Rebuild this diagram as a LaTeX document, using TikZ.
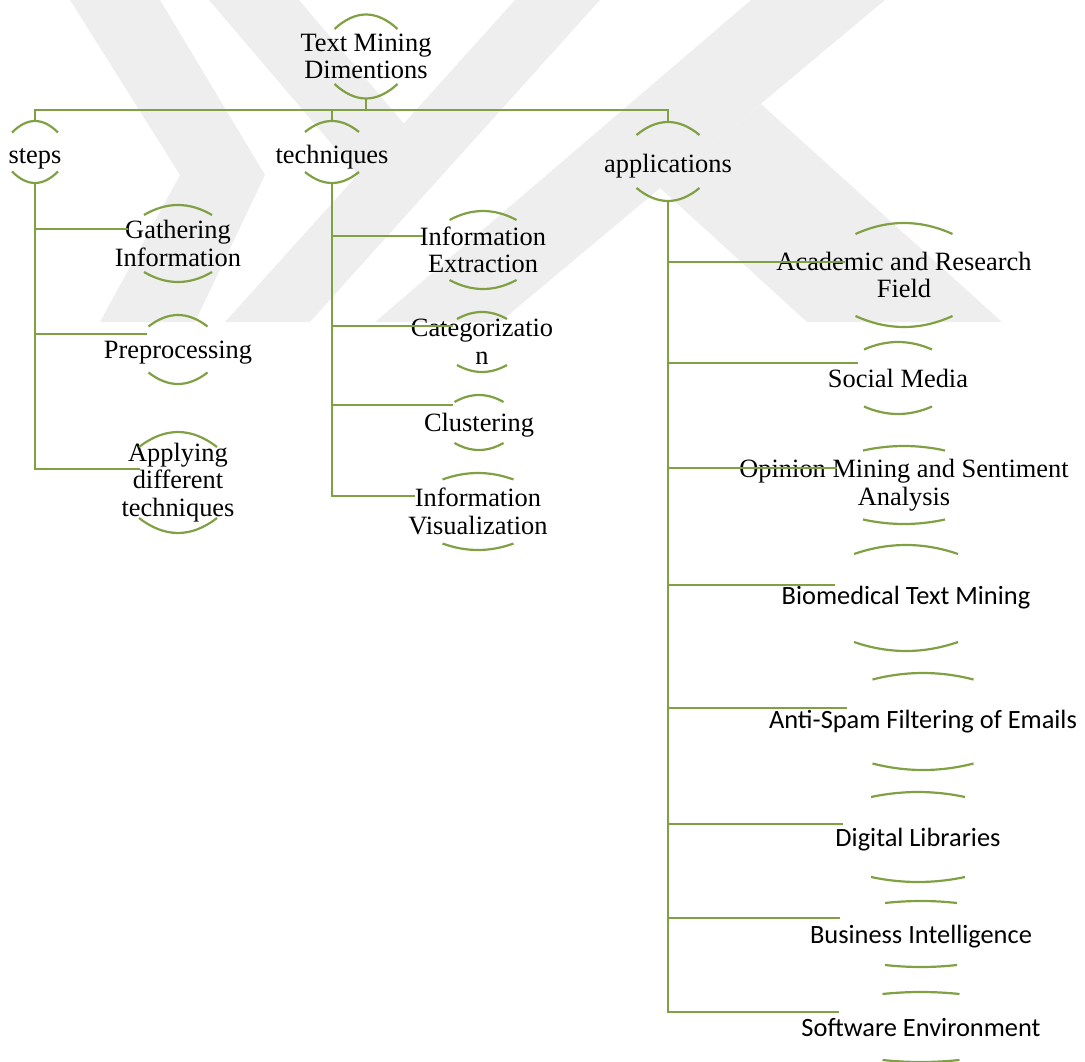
\documentclass[tikz,border=0pt]{standalone}
\usepackage{fontspec}
\setmainfont{Liberation Serif}
\newfontfamily\calibrifont{Carlito}
\definecolor{leafgreen}{RGB}{128,160,68}
\definecolor{markgray}{RGB}{238,238,238}

\tikzset{
  dimnode/.style={inner sep=0pt, align=center, font=\fontsize{26.4}{27.5}\selectfont},
  appnode/.style={dimnode, font={\calibrifont\fontsize{26.4}{27.5}\selectfont}},
  oneline/.style={text depth=0pt},
  headnode/.style={dimnode, text height=#1, text depth=0pt},
  link/.style={leafgreen, line width=2.3pt},
  rim/.style={leafgreen, line width=2.2pt}
}

\begin{document}
\begin{tikzpicture}[x=1pt, y=-1pt]
  \useasboundingbox (0,0) rectangle (1085,1062);

  % faint bands in the background
  \fill[markgray] (70,0) -- (160,0) -- (265,175) -- (195,322) -- (100,322) -- (180,175) -- cycle;
  \fill[markgray] (209,0) -- (299,0) -- (445,172) -- (358,175) -- cycle;
  \fill[markgray] (515,0) -- (600,0) -- (310,322) -- (225,322) -- cycle;
  \fill[markgray] (751,0) -- (885,0) -- (500,322) -- (375,322) -- cycle;
  \fill[markgray] (761,104) -- (1002,322) -- (807,322) -- (660,188) -- cycle;

  % top and first level
  \node[dimnode, minimum height=84] (root) at (366,56.5) {Text Mining\\Dimentions};
  \node[headnode=23pt, minimum height=62] (steps) at (35,152) {steps};
  \node[headnode=23pt, minimum height=62] (tech) at (332,152) {techniques};
  \node[headnode=21pt, minimum height=79] (apps) at (668,161.5) {applications};

  % steps
  \node[dimnode, minimum height=77] (gather) at (178,243.5) {Gathering\\Information};
  \node[dimnode, oneline, minimum height=69] (prep) at (178,349.5) {Preprocessing};
  \node[dimnode, minimum height=101] (apply) at (178,482.5) {Applying\\different\\techniques};

  % techniques
  \node[dimnode, minimum height=78] (extract) at (483,250) {Information\\Extraction};
  \node[dimnode, minimum height=60] (categ) at (482,342) {Categorizatio\\n};
  \node[dimnode, oneline, minimum height=55] (cluster) at (479,422.5) {Clustering};
  \node[dimnode, minimum height=77] (visual) at (478,511.5) {Information\\Visualization};

  % applications
  \node[dimnode, minimum height=104] (acad) at (904,275) {Academic and Research\\Field};
  \node[dimnode, oneline, minimum height=72] (social) at (898,378) {Social Media};
  \node[dimnode, minimum height=78] (opinion) at (904,485) {Opinion Mining and Sentiment\\Analysis};
  \node[appnode, minimum height=106] (biomed) at (906,598) {Biomedical Text Mining};
  \node[appnode, minimum height=97] (spam) at (923,721.5) {Anti-Spam Filtering of Emails};
  \node[appnode, oneline, minimum height=90] (libs) at (918,837) {Digital Libraries};
  \node[appnode, oneline, minimum height=66] (business) at (921,934) {Business Intelligence};
  \node[appnode, oneline, minimum height=70] (software) at (921,1027) {Software Environment};

  % arcs above and below each label
  \foreach \n/\hw/\de/\da in {root/31.5/27.5/42, steps/23/19.5/31, tech/27/20/31,
      apps/31.5/26.5/39.5, gather/34/28.5/38.5, prep/29.5/23/34.5, apply/39/35.5/50.5,
      extract/33.5/30/39, categ/25/23/30, cluster/24.5/20.5/27.5, visual/35.5/32/38.5,
      acad/48.5/41/52, social/34/28.5/36, opinion/41/34.5/39, biomed/52/44/53,
      spam/50.5/42/48.5, libs/47/40/45, business/36/31/33, software/38.5/33/35} {
    \pgfmathsetmacro\rimk{\de+4/3*(\da-\de)}
    \pgfmathsetmacro\rimh{\hw/3}
    \draw[rim] ([shift={(-\hw,-\de)}]\n.center) .. controls ([shift={(-\rimh,-\rimk)}]\n.center)
      and ([shift={(\rimh,-\rimk)}]\n.center) .. ([shift={(\hw,-\de)}]\n.center);
    \draw[rim] ([shift={(-\hw,\de)}]\n.center) .. controls ([shift={(-\rimh,\rimk)}]\n.center)
      and ([shift={(\rimh,\rimk)}]\n.center) .. ([shift={(\hw,\de)}]\n.center);
  }

  % bus from the root
  \foreach \c in {steps,tech,apps}
    \draw[link] (root.south) -- ++(0,11.5) -| (\c.north);

  % elbow links down each column
  \foreach \p/\c/\dx/\dy in {steps/gather/-50/-14.5, steps/prep/-31/-15.5, steps/apply/-38/-13.5,
      tech/extract/-60/-14, tech/categ/-29/-16, tech/cluster/-26/-17.5, tech/visual/-63/-15.5,
      apps/acad/-59/-13, apps/social/-40/-15, apps/opinion/-67/-17, apps/biomed/-71/-13,
      apps/spam/-76/-13.5, apps/libs/-75/-13, apps/business/-81/-16, apps/software/-82/-15}
    \draw[link] (\p.south) |- ([shift={(\dx,\dy)}]\c.center);
\end{tikzpicture}
\end{document}
